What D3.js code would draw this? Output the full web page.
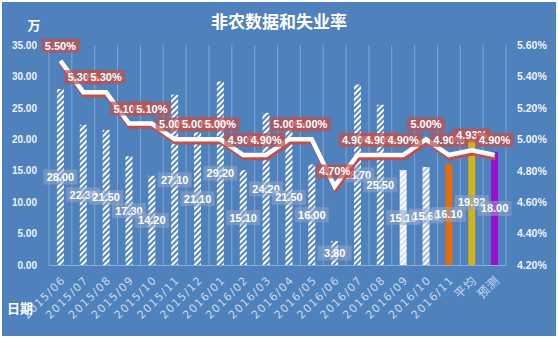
<!DOCTYPE html>
<html><head><meta charset="utf-8">
<script src="https://cdn.jsdelivr.net/npm/d3@7"></script>
<style>html,body{margin:0;padding:0;background:#fff}svg{display:block}</style>
</head><body>
<script>
const categories = ["2015/06","2015/07","2015/08","2015/09","2015/10","2015/11","2015/12","2016/01","2016/02","2016/03","2016/04","2016/05","2016/06","2016/07","2016/08","2016/09","2016/10","2016/11","平均","预测"];
const payrolls = [28.00,22.30,21.50,17.30,14.20,27.10,21.10,29.20,15.10,24.20,21.50,16.00,3.80,28.70,25.50,15.10,15.60,16.10,19.92,18.00];
const unemployment = [5.50,5.30,5.30,5.10,5.10,5.00,5.00,5.00,4.90,4.90,5.00,5.00,4.70,4.90,4.90,4.90,5.00,4.90,4.93,4.90];
const leftTicks = [0,5,10,15,20,25,30,35];
const rightTicks = [4.2,4.4,4.6,4.8,5.0,5.2,5.4,5.6];
const title = "非农数据和失业率";
const leftUnit = "万";
const xTitle = "日期";

const W = 558, H = 338;
const BG = "#4f81bd";
const barFill = {"2016/09":"url(#hatchLight)","2016/10":"url(#hatchMid)","2016/11":"#e46c0a","平均":"#d4b21c","预测":"#9b0fd0"};

const svg = d3.select("body").append("svg").attr("width", W).attr("height", H);
const defs = svg.append("defs");
function hatch(id, bg, fg, sw){
  const p = defs.append("pattern").attr("id", id).attr("patternUnits","userSpaceOnUse")
    .attr("width", 4).attr("height", 4).attr("patternTransform","rotate(45)");
  p.append("rect").attr("width",4).attr("height",4).attr("fill",bg);
  p.append("rect").attr("x",0).attr("y",0).attr("width",sw).attr("height",4).attr("fill",fg);
}
hatch("hatch", BG, "#ffffff", 2.1);
hatch("hatchLight", "#ffffff", "#c9d7ea", 1.6);
hatch("hatchMid", "#ffffff", "#9db6d8", 1.8);

svg.append("rect").attr("x",2).attr("y",2).attr("width",W-4).attr("height",H-4).attr("fill",BG);

const x = d3.scaleBand().domain(categories).range([49, 506]);
const yL = d3.scaleLinear().domain([0,35]).range([265,45]);
const yR = d3.scaleLinear().domain([4.2,5.6]).range([265,45]);

// vertical gridlines
const bounds = categories.map(c => x(c)).concat([x.range()[1]]);
svg.append("g").selectAll("line").data(bounds).join("line")
  .attr("x1", d=>d).attr("x2", d=>d).attr("y1", 45).attr("y2", 265)
  .attr("stroke","rgba(255,255,255,0.3)").attr("stroke-width",1);
svg.append("line").attr("x1",49).attr("x2",506).attr("y1",265.5).attr("y2",265.5)
  .attr("stroke","rgba(255,255,255,0.35)");

// axes
const axL = svg.append("g").attr("transform","translate(49,0)")
  .call(d3.axisLeft(yL).tickValues(leftTicks).tickSize(0).tickPadding(12).tickFormat(d3.format(".2f")));
axL.select(".domain").remove();
axL.selectAll("text").attr("fill","#eef2f8").attr("font-family","Liberation Sans, Arial").attr("font-weight","bold").attr("font-size","10px");

const axR = svg.append("g").attr("transform","translate(506,0)")
  .call(d3.axisRight(yR).tickValues(rightTicks).tickSize(0).tickPadding(11).tickFormat(d => d.toFixed(2)+"%"));
axR.select(".domain").remove();
axR.selectAll("text").attr("fill","#eef2f8").attr("font-family","Liberation Sans, Arial").attr("font-weight","bold").attr("font-size","10.5px");

const axB = svg.append("g").attr("transform","translate(0,265)")
  .call(d3.axisBottom(x).tickSize(0).tickPadding(0));
axB.select(".domain").remove();
axB.selectAll("text")
  .attr("text-anchor","end")
  .attr("fill","#c9d8ec")
  .attr("font-family", d => /\d/.test(d) ? "DejaVu Sans" : "Noto Sans CJK SC")
  .attr("font-size", d => /\d/.test(d) ? "11px" : "12px")
  .attr("letter-spacing", d => /\d/.test(d) ? "1.3px" : "1px")
  .attr("dy","0.35em").attr("y",0)
  .attr("transform","translate(3,13) rotate(-45)");

// bars
const bw = 7;
svg.append("g").selectAll("rect").data(categories).join("rect")
  .attr("x", (c)=> x(c)+x.bandwidth()/2-bw/2)
  .attr("width", bw)
  .attr("y", (c,i)=> yL(payrolls[i]))
  .attr("height", (c,i)=> yL(0)-yL(payrolls[i]))
  .attr("fill", c => barFill[c] || "url(#hatch)");

// bar labels
const bl = svg.append("g");
categories.forEach((c,i)=>{
  const cx = x(c)+x.bandwidth()/2, cy = yL(payrolls[i]/2);
  const g = bl.append("g").attr("transform",`translate(${cx},${cy})`);
  g.append("rect").attr("x",-17).attr("y",-7.5).attr("width",34).attr("height",15)
    .attr("fill","#8fa6c8").attr("fill-opacity",0.55);
  g.append("text").text(payrolls[i].toFixed(2)).attr("text-anchor","middle").attr("dy","0.36em")
    .attr("fill","#ffffff").attr("font-family","Liberation Sans, Arial").attr("font-weight","bold").attr("font-size","11px");
});

// line with shadow
const line = d3.line().x((d,i)=> x(categories[i])+x.bandwidth()/2).y(d=> yR(d));
svg.append("path").datum(unemployment).attr("d",line).attr("fill","none")
  .attr("stroke","#c0504d").attr("stroke-width",4.5).attr("stroke-linejoin","miter")
  .attr("transform","translate(1,3)");
svg.append("path").datum(unemployment).attr("d",line).attr("fill","none")
  .attr("stroke","#ffffff").attr("stroke-width",4.5).attr("stroke-linejoin","miter");

// line labels
const ll = svg.append("g");
categories.forEach((c,i)=>{
  const cx = x(c)+x.bandwidth()/2, cy = yR(unemployment[i]) - 15;
  const g = ll.append("g").attr("transform",`translate(${cx},${cy})`);
  g.append("rect").attr("x",-19).attr("y",-7).attr("width",38).attr("height",14)
    .attr("fill","#c0504d").attr("fill-opacity",0.75);
  g.append("text").text(unemployment[i].toFixed(2)+"%").attr("text-anchor","middle").attr("dy","0.36em")
    .attr("fill","#ffffff").attr("font-family","Liberation Sans, Arial").attr("font-weight","bold").attr("font-size","11px");
});

// titles
svg.append("text").text(title).attr("x",279).attr("y",22).attr("dy","0.35em").attr("text-anchor","middle")
  .attr("fill","#ffffff").attr("font-family","Noto Sans CJK SC").attr("font-weight","bold").attr("font-size","17px");
svg.append("text").text(leftUnit).attr("x",34).attr("y",25).attr("dy","0.35em").attr("text-anchor","middle")
  .attr("fill","#ffffff").attr("font-family","Noto Sans CJK SC").attr("font-weight","bold").attr("font-size","13px");
svg.append("text").text(xTitle).attr("x",7).attr("y",308).attr("dy","0.35em")
  .attr("fill","#ffffff").attr("font-family","Noto Sans CJK SC").attr("font-weight","bold").attr("font-size","13px");
</script>
</body></html>
